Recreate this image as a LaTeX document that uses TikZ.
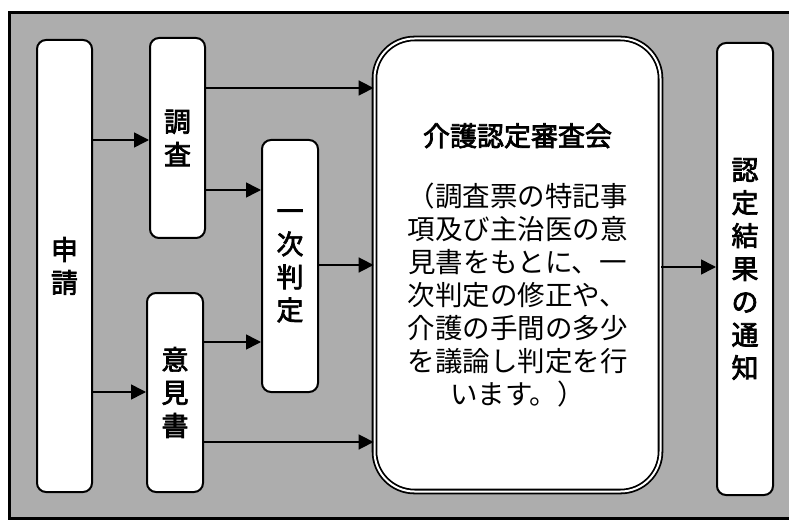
\documentclass[tikz,border=0pt]{standalone}
\usepackage{fontspec}
\newfontfamily\jp{Noto Sans CJK JP}
\newfontfamily\jpb[FakeBold=2.6]{Noto Sans CJK JP}
\usetikzlibrary{arrows.meta}
\begin{document}
\begin{tikzpicture}[x=1pt,y=-1pt,
  box/.style={draw=black, line width=2pt, fill=white, rounded corners=9pt,
    inner sep=0pt, align=center, font=\jpb\fontsize{27}{33}\selectfont},
  arr/.style={line width=1.6pt, -{Triangle[length=15pt,width=15pt]}},
  bigbox/.style={draw=black, line width=1.8pt, double=white, double distance=2pt,
    fill=white, rounded corners=40pt, inner sep=0pt, align=center,
    font=\jp\fontsize{27.5}{33}\selectfont}]
\useasboundingbox (0,0) rectangle (789,521);
\fill[white] (0,0) rectangle (789,521);
\draw[line width=3pt, fill=black!32] (9,13) rectangle (792,518);
% boxes
\node[box, minimum width=55pt, minimum height=452pt] (shinsei) at (64.5,266)
  {\fontsize{27}{67}\selectfont 申\\請};
\node[box, minimum width=55pt, minimum height=200pt] (chousa) at (177.5,138)
  {\fontsize{27}{64}\selectfont 調\\査};
\node[box, minimum width=56pt, minimum height=199pt] (iken) at (175,392.5)
  {意\\見\\書};
\node[box, minimum width=56pt, minimum height=252pt] (ichiji) at (290,266)
  {一\\次\\判\\定};
\node[bigbox, minimum width=286pt, minimum height=453pt] (shinsa) at (517.5,265)
  {{\jpb\fontsize{27}{33}\selectfont 介護認定審査会}\\[27pt]
   （調査票の特記事\\項及び主治医の意\\見書をもとに、一\\次判定の修正や、\\介護の手間の多少\\を議論し判定を行\\います。）};
\node[box, minimum width=56pt, minimum height=452pt] (tsuchi) at (745,269)
  {\fontsize{27}{30.7}\selectfont 認\\定\\結\\果\\の\\通\\知};
% arrows
\draw[arr] (shinsei.east |- 0,140) -- (chousa.west |- 0,140);
\draw[arr] (shinsei.east |- 0,392) -- (iken.west |- 0,392);
\draw[arr] (chousa.east |- 0,88) -- (shinsa.west |- 0,88);
\draw[arr] (chousa.east |- 0,190) -- (ichiji.west |- 0,190);
\draw[arr] (iken.east |- 0,342) -- (ichiji.west |- 0,342);
\draw[arr] (iken.east |- 0,442) -- (shinsa.west |- 0,442);
\draw[arr] (ichiji.east |- 0,265) -- (shinsa.west |- 0,265);
\draw[arr] (shinsa.east |- 0,267) -- (tsuchi.west |- 0,267);
\end{tikzpicture}
\end{document}
